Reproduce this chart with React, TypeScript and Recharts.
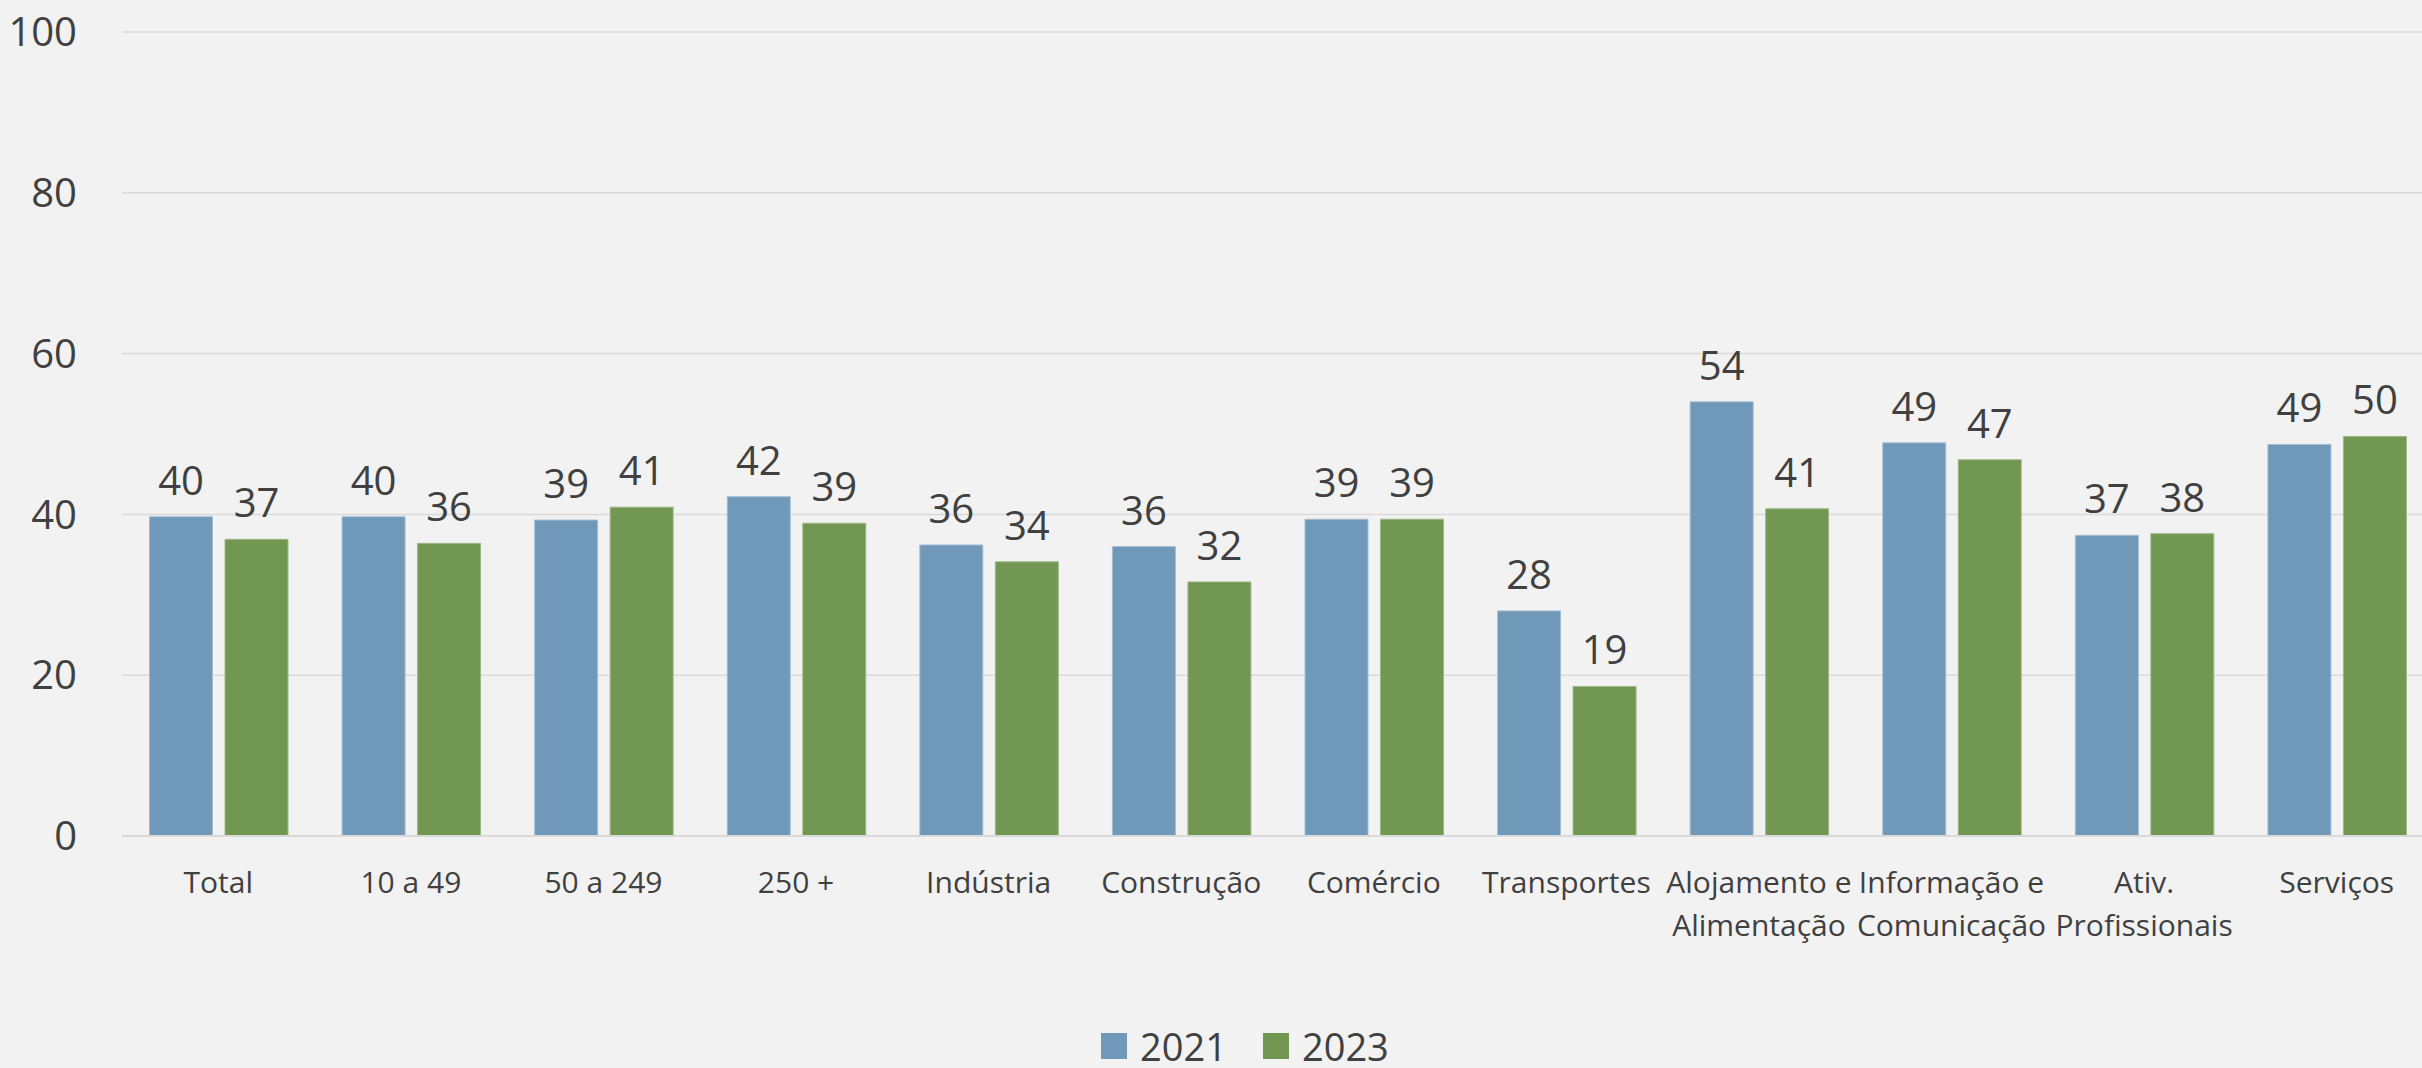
import React from "react";
import { BarChart, Bar, XAxis, YAxis, CartesianGrid, Legend, LabelList } from "recharts";

// categories (line breaks where the reference wraps the label)
const categories = [
  "Total",
  "10 a 49",
  "50 a 249",
  "250 +",
  "Indústria",
  "Construção",
  "Comércio",
  "Transportes",
  "Alojamento e\nAlimentação",
  "Informação e\nComunicação",
  "Ativ.\nProfissionais",
  "Serviços",
];
const years = ["2021", "2023"];
const values2021 = [39.7, 39.7, 39.3, 42.2, 36.2, 36.0, 39.4, 28.0, 54.0, 48.9, 37.4, 48.7];
const values2023 = [36.9, 36.4, 40.9, 38.9, 34.1, 31.6, 39.4, 18.6, 40.7, 46.8, 37.6, 49.7];
const yTicks = [0, 20, 40, 60, 80, 100];

const data = categories.map((name, i) => ({
  name,
  y2021: values2021[i],
  y2023: values2023[i],
}));

const TEXT = "#404040";
const GRID = "#d9d9d9";
const BLUE = "#7098b9";
const GREEN = "#729753";
const FONT = '"Segoe UI", "Open Sans", sans-serif';

function CategoryTick(props: any) {
  const { x, y, payload } = props;
  const lines = String(payload.value).split("\n");
  return (
    <text x={x} y={y} textAnchor="middle" fill={TEXT} fontSize={30}>
      {lines.map((line, i) => (
        <tspan key={i} x={x} y={y + 57 + i * 43}>
          {line}
        </tspan>
      ))}
    </text>
  );
}

function YearLegend(props: any) {
  const items = props.payload ?? [];
  return (
    <div style={{ display: "flex", alignItems: "center", height: 46 }}>
      {items.map((item: any, i: number) => (
        <div key={item.value} style={{ display: "flex", alignItems: "center", marginLeft: i ? 36 : 0 }}>
          <span style={{ display: "inline-block", width: 26, height: 26, background: item.color, marginRight: 13 }} />
          <span style={{ fontSize: 38, lineHeight: "46px", color: TEXT }}>{item.value}</span>
        </div>
      ))}
    </div>
  );
}

export default function App() {
  return (
    <div
      style={{
        position: "fixed",
        left: 0,
        top: 0,
        width: 2422,
        height: 1068,
        overflow: "hidden",
        background: "#f2f2f2",
        fontFamily: FONT,
      }}
    >
      <BarChart
        width={2440}
        height={1068}
        data={data}
        margin={{ top: 32, right: 7, bottom: 0, left: 0 }}
        barCategoryGap={27.5}
        barGap={12.5}
      >
        <CartesianGrid vertical={false} stroke={GRID} strokeWidth={1.5} />
        <XAxis
          dataKey="name"
          height={232}
          interval={0}
          tickLine={false}
          tickSize={0}
          tickMargin={0}
          axisLine={{ stroke: GRID, strokeWidth: 2 }}
          tick={<CategoryTick />}
        />
        <YAxis
          domain={[0, 100]}
          ticks={yTicks}
          width={122}
          axisLine={false}
          tickLine={false}
          tickSize={0}
          tickMargin={45}
          tick={{ fontSize: 40, fill: TEXT }}
        />
        <Legend
          layout="horizontal"
          verticalAlign="middle"
          align="center"
          wrapperStyle={{ left: 1101, top: 1023, width: "auto" }}
          content={<YearLegend />}
        />
        <Bar dataKey="y2021" name={years[0]} fill={BLUE} stroke="#a4bdd3" strokeWidth={1} isAnimationActive={false}>
          <LabelList
            dataKey="y2021"
            position="top"
            offset={22}
            formatter={(v: any) => Math.round(Number(v))}
            fill={TEXT}
            fontSize={40}
          />
        </Bar>
        <Bar dataKey="y2023" name={years[1]} fill={GREEN} stroke="#9cb985" strokeWidth={1} isAnimationActive={false}>
          <LabelList
            dataKey="y2023"
            position="top"
            offset={22}
            formatter={(v: any) => Math.round(Number(v))}
            fill={TEXT}
            fontSize={40}
          />
        </Bar>
      </BarChart>
    </div>
  );
}
